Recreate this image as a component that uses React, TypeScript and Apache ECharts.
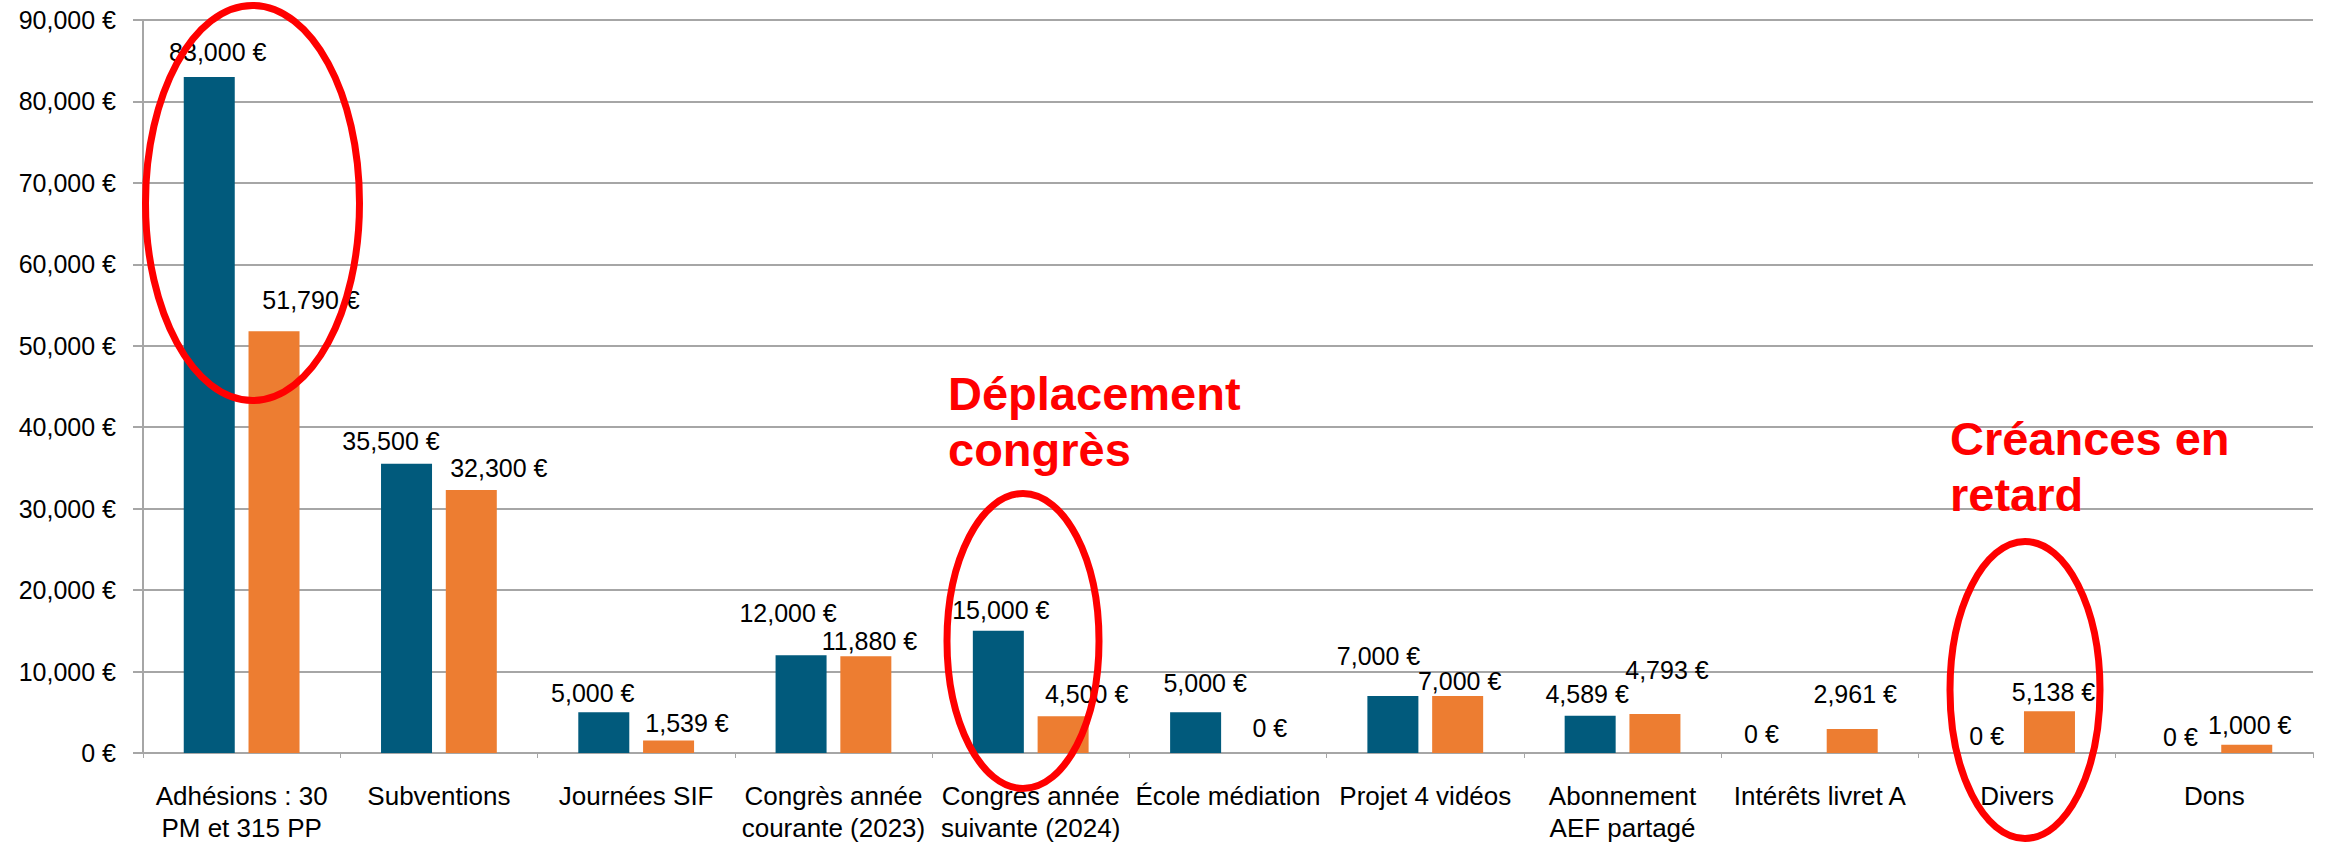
import React, { useEffect, useRef } from 'react';
import * as echarts from 'echarts';

// ---- Data ----
const categories = [
  'Adhésions : 30\nPM et 315 PP',
  'Subventions',
  'Journées SIF',
  'Congrès année\ncourante (2023)',
  'Congres année\nsuivante (2024)',
  'École médiation',
  'Projet 4 vidéos',
  'Abonnement\nAEF partagé',
  'Intérêts livret A',
  'Divers',
  'Dons',
];
const seriesBlue = [83000, 35500, 5000, 12000, 15000, 5000, 7000, 4589, 0, 0, 0];
const seriesOrange = [51790, 32300, 1539, 11880, 4500, 0, 7000, 4793, 2961, 5138, 1000];
const yMin = 0;
const yMax = 90000;
const yInterval = 10000;

// ---- Styling (label nudges: [dx, baseline height above bar top]) ----
const blueLabelShift: [number, number][] = [
  [8.5, 17], [-15.5, 14], [-11, 11], [-13, 34], [2.5, 12], [9.5, 21],
  [-14.4, 31], [-3, 13], [-26, 11], [2, 9], [-1.5, 8],
];
const orangeLabelShift: [number, number][] = [
  [37, 23], [27.5, 13], [18.5, 9], [3.6, 7], [23.5, 14], [9.5, 17],
  [2, 6], [12, 35], [3, 26], [4, 11], [3, 11],
];

const FONT = '"Liberation Sans", Arial, Helvetica, sans-serif';
const BLUE = '#015a7c';
const ORANGE = '#ed7d31';
const GRID = '#a6a6a6';
const RED = '#ff0000';

const fmt = (v: number) => String(v).replace(/\B(?=(\d{3})+(?!\d))/g, ',') + ' €';

export default function App() {
  const ref = useRef<HTMLDivElement>(null);
  useEffect(() => {
    if (!ref.current) return;
    const chart = echarts.init(ref.current, undefined, { renderer: 'svg' });
    const DESC = 4;
    const mk = (vals: number[], shifts: [number, number][]) =>
      vals.map((v, i) => ({
        value: v,
        label: { offset: [shifts[i][0], -(shifts[i][1] - DESC)] },
      }));
    const labelCfg = {
      show: true,
      position: 'top',
      distance: 0,
      formatter: (p: any) => fmt(p.value),
      fontSize: 25,
      lineHeight: 25,
      color: '#000',
      fontFamily: FONT,
    };
    const textMid = (s: string, x: number, baseline: number) => ({
      type: 'text',
      x,
      y: baseline - 16.3,
      z: 100,
      style: {
        text: s,
        fill: RED,
        fontSize: 47,
        fontWeight: 'bold',
        fontFamily: FONT,
        verticalAlign: 'middle',
        align: 'left',
      },
    });
    const ell = (cx: number, cy: number, rx: number, ry: number) => ({
      type: 'ellipse',
      z: 100,
      shape: { cx, cy, rx, ry },
      style: { fill: 'none', stroke: RED, lineWidth: 7 },
    });
    chart.setOption({
      animation: false,
      backgroundColor: '#fff',
      grid: { left: 143, right: 15, top: 20, bottom: 92, containLabel: false },
      xAxis: {
        type: 'category',
        data: categories,
        axisLine: { show: true, lineStyle: { color: GRID, width: 2 } },
        axisTick: { show: true, length: 5, lineStyle: { color: GRID, width: 1 } },
        axisLabel: {
          interval: 0,
          fontSize: 26,
          lineHeight: 32,
          margin: 27,
          color: '#000',
          fontFamily: FONT,
        },
      },
      yAxis: {
        type: 'value',
        min: yMin,
        max: yMax,
        interval: yInterval,
        axisLine: { show: true, lineStyle: { color: GRID, width: 2 } },
        axisTick: { show: true, length: 10, lineStyle: { color: GRID, width: 2 } },
        axisLabel: {
          formatter: (v: number) => fmt(v),
          fontSize: 25,
          margin: 27,
          color: '#000',
          fontFamily: FONT,
        },
        splitLine: { show: true, lineStyle: { color: GRID, width: 2 } },
      },
      series: [
        {
          type: 'bar',
          barWidth: 51,
          barGap: '27%',
          itemStyle: { color: BLUE },
          label: labelCfg,
          data: mk(seriesBlue, blueLabelShift),
        },
        {
          type: 'bar',
          barWidth: 51,
          barGap: '27%',
          itemStyle: { color: ORANGE },
          label: labelCfg,
          data: mk(seriesOrange, orangeLabelShift),
        },
      ],
      graphic: {
        elements: [
          ell(252.5, 203, 107, 197.5),
          ell(1023, 641, 76, 147.5),
          ell(2025, 690, 75, 148.5),
          textMid('Déplacement', 948, 410),
          textMid('congrès', 948, 466),
          textMid('Créances en', 1950, 455),
          textMid('retard', 1950, 511),
        ],
      },
    });
    return () => chart.dispose();
  }, []);
  return (
    <div
      ref={ref}
      style={{ position: 'fixed', left: 0, top: 0, width: 2328, height: 845, background: '#fff' }}
    />
  );
}
